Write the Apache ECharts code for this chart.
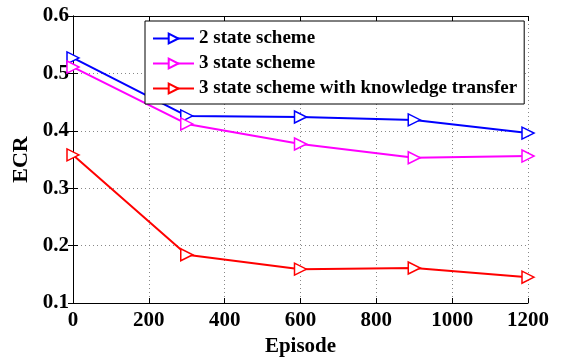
<!DOCTYPE html>
<html><head><meta charset="utf-8">
<script src="https://cdn.jsdelivr.net/npm/echarts@6/dist/echarts.min.js"></script>
<style>html,body{margin:0;padding:0;background:#fff}#c{width:568px;height:358px}</style>
</head><body><div id="c"></div>
<script>
const episodes = [0, 300, 600, 900, 1200];
const twoState = [0.527, 0.426, 0.424, 0.419, 0.396];
const threeState = [0.511, 0.412, 0.377, 0.353, 0.356];
const threeStateKT = [0.358, 0.184, 0.159, 0.161, 0.145];
const seriesNames = ['2 state scheme', '3 state scheme', '3 state scheme with knowledge transfer'];
const colors = ['#0000ff', '#ff00ff', '#ff0000'];

const font = 'Liberation Serif';
const chart = echarts.init(document.getElementById('c'));
function mk(name, vals, color) {
  return {
    name: name, type: 'line',
    data: episodes.map((e, i) => [e, vals[i]]),
    symbol: 'triangle', symbolRotate: -90, symbolSize: 12,
    showSymbol: true,
    lineStyle: {color: color, width: 2},
    itemStyle: {color: '#fff', borderColor: color, borderWidth: 1.5},
    emphasis: {disabled: true}, animation: false
  };
}
const axisCommon = {
  axisLine: {show: true, lineStyle: {color: '#000', width: 1}},
  axisTick: {show: true, inside: true, length: 5, lineStyle: {color: '#000'}},
};
chart.setOption({
  animation: false,
  grid: {left: 73, top: 16, width: 455, height: 287, containLabel: false, outerBoundsMode: 'none'},
  legend: {
    data: seriesNames, orient: 'vertical', left: 145, top: 21,
    itemWidth: 41, itemHeight: 12, itemGap: 6,
    padding: [8, 7, 6, 7],
    backgroundColor: '#fff', borderColor: '#000', borderWidth: 1,
    textStyle: {fontFamily: font, fontWeight: 'bold', fontSize: 19, lineHeight: 19, color: '#000'}
  },
  xAxis: [{
    type: 'value', min: 0, max: 1200, interval: 200, ...axisCommon,
    name: 'Episode', nameLocation: 'middle', nameGap: 33,
    nameTextStyle: {fontFamily: font, fontWeight: 'bold', fontSize: 21, color: '#000'},
    axisLabel: {fontFamily: font, fontWeight: 'bold', fontSize: 21, color: '#000', margin: 7,
      formatter: v => String(v)},
    splitLine: {show: true, lineStyle: {color: '#888', type: [1, 3], width: 1}}
  }, {
    type: 'value', position: 'top', min: 0, max: 1200, interval: 200, ...axisCommon,
    axisLabel: {show: false}, splitLine: {show: false}
  }],
  yAxis: [{
    type: 'value', min: 0.1, max: 0.6, interval: 0.1, ...axisCommon,
    name: 'ECR', nameLocation: 'middle', nameGap: 34,
    nameTextStyle: {fontFamily: font, fontWeight: 'bold', fontSize: 22, color: '#000'},
    axisLabel: {fontFamily: font, fontWeight: 'bold', fontSize: 21, color: '#000', margin: 4,
      formatter: v => v.toFixed(1)},
    splitLine: {show: true, lineStyle: {color: '#888', type: [1, 3], width: 1}}
  }, {
    type: 'value', position: 'right', min: 0.1, max: 0.6, interval: 0.1, ...axisCommon,
    axisLabel: {show: false}, splitLine: {show: false}
  }],
  series: [mk(seriesNames[0], twoState, colors[0]), mk(seriesNames[1], threeState, colors[1]), mk(seriesNames[2], threeStateKT, colors[2])]
});
</script></body></html>
